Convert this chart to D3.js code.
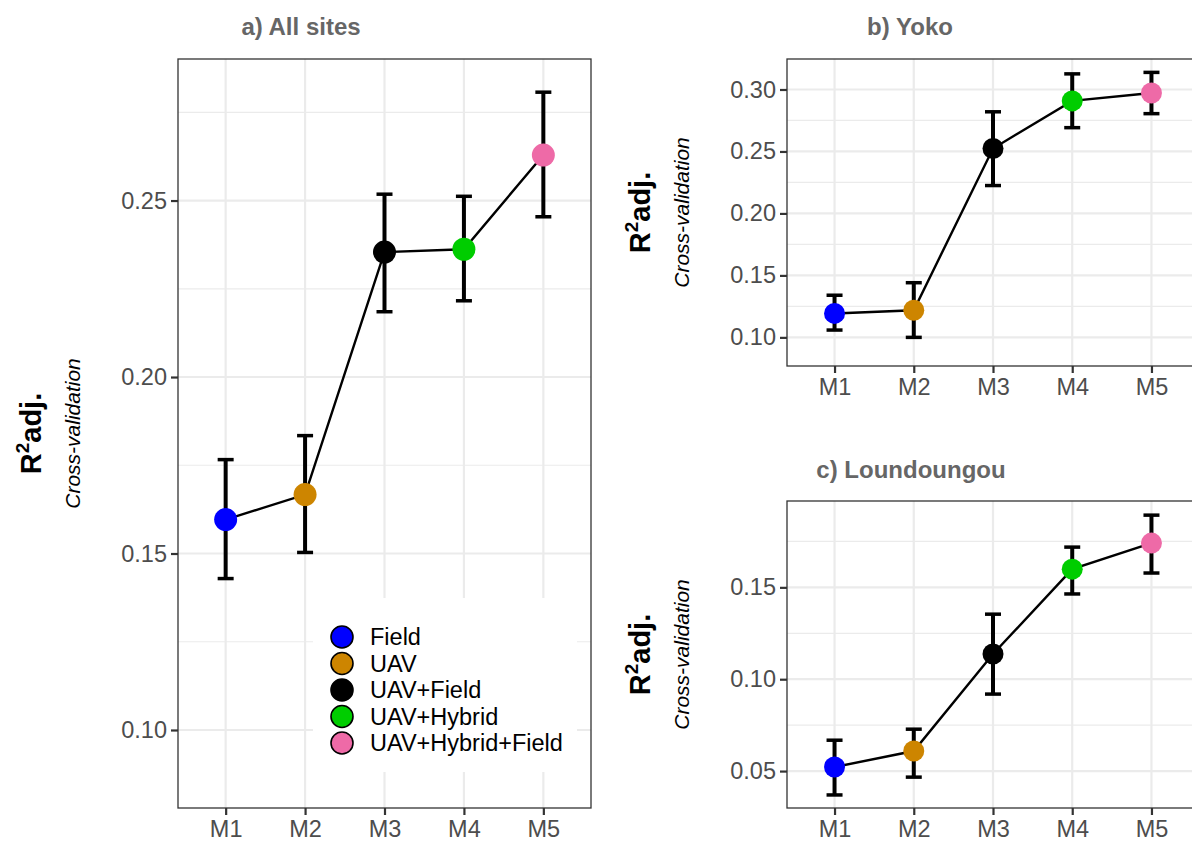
<!DOCTYPE html>
<html>
<head>
<meta charset="utf-8">
<script src="https://cdn.jsdelivr.net/npm/d3@7"></script>
<style>
  body { margin: 0; background: #fff; }
  text { font-family: "Liberation Sans", Arial, sans-serif; }
</style>
</head>
<body>
<div id="chart"></div>
<script>
// models on the x axis
const models = ["M1", "M2", "M3", "M4", "M5"];
const groups = ["Field", "UAV", "UAV+Field", "UAV+Hybrid", "UAV+Hybrid+Field"];
const groupColors = ["#0000FF", "#CD8500", "#000000", "#00CD00", "#EE6AA7"];

// a) All sites
const allR2 = [0.1596, 0.1667, 0.2354, 0.2362, 0.2629];
const allLow = [0.1429, 0.1503, 0.2185, 0.2216, 0.2454];
const allHigh = [0.1766, 0.1834, 0.2518, 0.2512, 0.2807];
const allTicks = [0.10, 0.15, 0.20, 0.25];

// b) Yoko
const yokoR2 = [0.1193, 0.1219, 0.2524, 0.2908, 0.2972];
const yokoLow = [0.1059, 0.1000, 0.2225, 0.2692, 0.2805];
const yokoHigh = [0.1340, 0.1441, 0.2820, 0.3126, 0.3138];
const yokoTicks = [0.10, 0.15, 0.20, 0.25, 0.30];

// c) Loundoungou
const loundR2 = [0.0522, 0.0609, 0.1137, 0.1599, 0.1741];
const loundLow = [0.0370, 0.0467, 0.0919, 0.1464, 0.1578];
const loundHigh = [0.0668, 0.0728, 0.1354, 0.1719, 0.1893];
const loundTicks = [0.05, 0.10, 0.15];

const width = 1192, height = 841;

const svg = d3.select("#chart")
    .append("svg")
    .attr("width", width)
    .attr("height", height);

function drawPanel(opts) {

    const { title, titleX, titleY, box, domain, ticks, r2, low, high, radius } = opts;

    const x = d3.scalePoint()
        .domain(models)
        .range([box.x0, box.x1])
        .padding(0.6);

    const y = d3.scaleLinear()
        .domain(domain)
        .range([box.y1, box.y0]);

    const step = ticks[1] - ticks[0];
    const minor = [];
    for (let i = -1; i < ticks.length; i++) {
        const v = ticks[0] + step * (i + 0.5);
        if (v > domain[0] && v < domain[1]) minor.push(v);
    }

    const g = svg.append("g");

    g.append("rect")
        .attr("x", box.x0).attr("y", box.y0)
        .attr("width", box.x1 - box.x0).attr("height", box.y1 - box.y0)
        .attr("fill", "#fff");

    // grid
    g.selectAll(".minor").data(minor).enter().append("line")
        .attr("x1", box.x0).attr("x2", box.x1)
        .attr("y1", d => y(d)).attr("y2", d => y(d))
        .attr("stroke", "#EBEBEB").attr("stroke-width", 1.2);
    g.selectAll(".major").data(ticks).enter().append("line")
        .attr("x1", box.x0).attr("x2", box.x1)
        .attr("y1", d => y(d)).attr("y2", d => y(d))
        .attr("stroke", "#EBEBEB").attr("stroke-width", 2.2);
    g.selectAll(".vgrid").data(models).enter().append("line")
        .attr("x1", d => x(d)).attr("x2", d => x(d))
        .attr("y1", box.y0).attr("y2", box.y1)
        .attr("stroke", "#EBEBEB").attr("stroke-width", 2.2);

    if (opts.legend) {
        const lg = opts.legend;
        g.append("rect")
            .attr("x", lg.x0).attr("y", lg.y0)
            .attr("width", lg.x1 - lg.x0).attr("height", lg.y1 - lg.y0)
            .attr("fill", "#fff");
    }

    // error bars
    const capHalf = 8;
    const bars = g.selectAll(".err").data(models).enter().append("g");
    bars.append("line")
        .attr("x1", d => x(d)).attr("x2", d => x(d))
        .attr("y1", (d, i) => y(low[i])).attr("y2", (d, i) => y(high[i]))
        .attr("stroke", "#000").attr("stroke-width", 4);
    bars.append("line")
        .attr("x1", d => x(d) - capHalf).attr("x2", d => x(d) + capHalf)
        .attr("y1", (d, i) => y(low[i])).attr("y2", (d, i) => y(low[i]))
        .attr("stroke", "#000").attr("stroke-width", 3.5);
    bars.append("line")
        .attr("x1", d => x(d) - capHalf).attr("x2", d => x(d) + capHalf)
        .attr("y1", (d, i) => y(high[i])).attr("y2", (d, i) => y(high[i]))
        .attr("stroke", "#000").attr("stroke-width", 3.5);

    // connecting line
    const line = d3.line()
        .x((d, i) => x(models[i]))
        .y(d => y(d));
    g.append("path")
        .datum(r2)
        .attr("d", line)
        .attr("fill", "none")
        .attr("stroke", "#000")
        .attr("stroke-width", 2.4);

    g.selectAll(".pt").data(r2).enter().append("circle")
        .attr("cx", (d, i) => x(models[i]))
        .attr("cy", d => y(d))
        .attr("r", radius)
        .attr("fill", (d, i) => groupColors[i]);

    // border
    g.append("rect")
        .attr("x", box.x0).attr("y", box.y0)
        .attr("width", box.x1 - box.x0).attr("height", box.y1 - box.y0)
        .attr("fill", "none")
        .attr("stroke", "#333").attr("stroke-width", 1.3);

    // axes
    const yAxis = g.append("g")
        .attr("transform", `translate(${box.x0},0)`)
        .call(d3.axisLeft(y).tickValues(ticks).tickFormat(d3.format(".2f")).tickSize(7).tickPadding(4));
    const xAxis = g.append("g")
        .attr("transform", `translate(0,${box.y1})`)
        .call(d3.axisBottom(x).tickSize(7).tickPadding(5));

    [yAxis, xAxis].forEach(a => {
        a.select(".domain").remove();
        a.selectAll(".tick line").attr("stroke", "#333").attr("stroke-width", 2.2);
        a.selectAll(".tick text")
            .attr("fill", "#4D4D4D")
            .style("font-size", "23.5px")
            .style("font-family", "Liberation Sans, Arial, sans-serif");
    });

    // titles
    svg.append("text")
        .attr("x", titleX).attr("y", titleY)
        .attr("text-anchor", "middle")
        .attr("fill", "#666")
        .style("font-size", "24px")
        .style("font-weight", "bold")
        .text(title);

    const cy = (box.y0 + box.y1) / 2;
    const lab = svg.append("text")
        .attr("transform", `translate(${box.x0 - 137},${cy}) rotate(-90)`)
        .attr("text-anchor", "middle")
        .attr("fill", "#000")
        .style("font-size", "29px")
        .style("font-weight", "bold");
    lab.append("tspan").text("R");
    lab.append("tspan").attr("dy", -12).style("font-size", "19px").text("2");
    lab.append("tspan").attr("dy", 12).text("adj.");

    svg.append("text")
        .attr("transform", `translate(${box.x0 - 98},${cy}) rotate(-90)`)
        .attr("text-anchor", "middle")
        .attr("fill", "#000")
        .style("font-size", "21px")
        .style("font-style", "italic")
        .text("Cross-validation");

    if (opts.legend) {
        const lg = opts.legend;
        const items = svg.append("g").selectAll("g").data(groups).enter().append("g")
            .attr("transform", (d, i) => `translate(${lg.cx},${lg.firstY + i * 26.5})`);
        items.append("circle")
            .attr("r", 11)
            .attr("fill", (d, i) => groupColors[i])
            .attr("stroke", "#000")
            .attr("stroke-width", 1.6);
        items.append("text")
            .attr("x", 28)
            .attr("dy", "0.36em")
            .attr("fill", "#000")
            .style("font-size", "23.5px")
            .text(d => d);
    }
}

drawPanel({
    title: "a) All sites", titleX: 301, titleY: 35,
    box: { x0: 178, x1: 591, y0: 59, y1: 808 },
    domain: [0.0779, 0.2901], ticks: allTicks,
    r2: allR2, low: allLow, high: allHigh, radius: 11.5,
    legend: { x0: 313, x1: 577, y0: 598, y1: 772, cx: 342, firstY: 637 }
});

drawPanel({
    title: "b) Yoko", titleX: 910, titleY: 35,
    box: { x0: 787, x1: 1199, y0: 59, y1: 366 },
    domain: [0.0769, 0.3246], ticks: yokoTicks,
    r2: yokoR2, low: yokoLow, high: yokoHigh, radius: 10.5
});

drawPanel({
    title: "c) Loundoungou", titleX: 911, titleY: 478,
    box: { x0: 787, x1: 1199, y0: 501, y1: 808 },
    domain: [0.0299, 0.197], ticks: loundTicks,
    r2: loundR2, low: loundLow, high: loundHigh, radius: 10.5
});
</script>
</body>
</html>
